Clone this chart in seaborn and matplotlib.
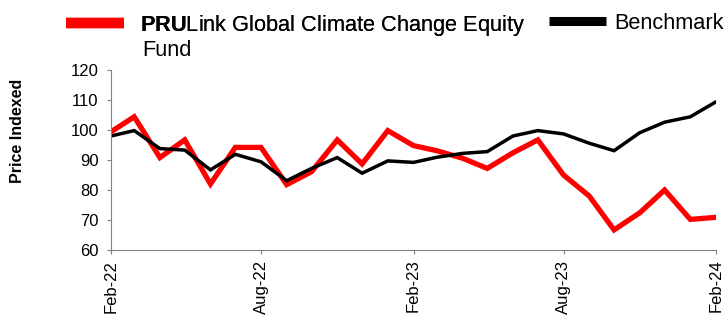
import matplotlib
matplotlib.use("Agg")
import matplotlib.pyplot as plt
from matplotlib.lines import Line2D
import seaborn as sns
import pandas as pd

months = ["Feb-22", "Mar-22", "Apr-22", "May-22", "Jun-22", "Jul-22", "Aug-22",
          "Sep-22", "Oct-22", "Nov-22", "Dec-22", "Jan-23", "Feb-23", "Mar-23",
          "Apr-23", "May-23", "Jun-23", "Jul-23", "Aug-23", "Sep-23", "Oct-23",
          "Nov-23", "Dec-23", "Jan-24", "Feb-24"]
fund = [99.4, 104.4, 90.8, 96.7, 82.0, 94.2, 94.2, 81.8, 86.1, 96.7, 88.7, 99.8,
        94.8, 93.1, 90.6, 87.2, 92.4, 96.7, 85.0, 78.0, 66.7, 72.4, 80.0, 70.2, 70.9]
bench = [98.0, 99.8, 93.8, 93.3, 86.7, 91.9, 89.4, 83.1, 87.2, 90.8, 85.6, 89.7,
         89.2, 90.9, 92.2, 92.8, 98.0, 99.8, 98.7, 95.6, 93.1, 99.1, 102.6, 104.4, 109.4]
tick_labels = ["Feb-22", "Aug-22", "Feb-23", "Aug-23", "Feb-24"]
fund_name = "PRULink Global Climate Change Equity Fund"
bench_name = "Benchmark"

plt.rcParams['font.family'] = ['Liberation Sans', 'DejaVu Sans']
plt.rcParams['mathtext.fontset'] = 'custom'
plt.rcParams['mathtext.rm'] = 'Liberation Sans'
plt.rcParams['mathtext.bf'] = 'Liberation Sans:bold'

dates = pd.to_datetime(months, format="%b-%y")
df = pd.DataFrame({
    "date": list(dates) * 2,
    "value": fund + bench,
    "series": [fund_name] * len(fund) + [bench_name] * len(bench),
})

W, H = 727, 316
fig = plt.figure(figsize=(W / 100, H / 100), dpi=100)
ax = fig.add_axes([111 / W, 1 - 250 / H, (716 - 111) / W, (250 - 70) / H])

palette = {fund_name: "#ff0000", bench_name: "#000000"}
sns.lineplot(data=df, x="date", y="value", hue="series", palette=palette,
             ax=ax, legend=False, sort=False)
lws = {fund_name: 3.8, bench_name: 2.5}
for line, name in zip(ax.get_lines(), [fund_name, bench_name]):
    line.set_linewidth(lws[name])
    line.set_solid_joinstyle("miter")

ax.set_xlim(dates[0], dates[-1])
ax.set_ylim(60, 120)
ax.set_yticks(range(60, 121, 10))
tick_dates = pd.to_datetime(tick_labels, format="%b-%y")
ax.set_xticks(tick_dates)
ax.set_xticklabels(tick_labels, rotation=90, fontsize=12)
ax.tick_params(axis="y", labelsize=12, length=3, width=0.8, color="#808080", pad=6)
ax.tick_params(axis="x", length=3, width=0.8, color="#808080", pad=4)
ax.set_xlabel("")
ax.set_ylabel("")
for s in ["top", "right"]:
    ax.spines[s].set_visible(False)
for s in ["left", "bottom"]:
    ax.spines[s].set_color("#808080")
    ax.spines[s].set_linewidth(0.8)
ax.set_facecolor("white")
ax.grid(False)

fig.text(17.5 / W, 1 - 130.5 / H, "Price Indexed", rotation=90, ha="center",
         va="center", fontsize=11.5, fontweight="bold")

FS = 15.7
h_red = Line2D([], [], color="#ff0000", linewidth=7.5, solid_capstyle="butt")
h_blk = Line2D([], [], color="#000000", linewidth=6.5, solid_capstyle="butt")
leg1 = fig.legend([h_red], [r"$\mathbf{PRU}$Link Global Climate Change Equity"],
                  loc="upper left", bbox_to_anchor=(66 / W, 1 - 13 / H),
                  frameon=False, fontsize=FS, handlelength=2.65, handletextpad=0.75,
                  borderpad=0, borderaxespad=0)
leg2 = fig.legend([h_blk], [bench_name],
                  loc="upper left", bbox_to_anchor=(549 / W, 1 - 13 / H),
                  frameon=False, fontsize=FS, handlelength=2.6, handletextpad=0.4,
                  borderpad=0, borderaxespad=0)
fig.add_artist(leg1)
fig.text(142 / W, 1 - 55.5 / H, "Fund", fontsize=FS, ha="left", va="baseline")

fig.savefig("out.png", dpi=100, facecolor="white")
